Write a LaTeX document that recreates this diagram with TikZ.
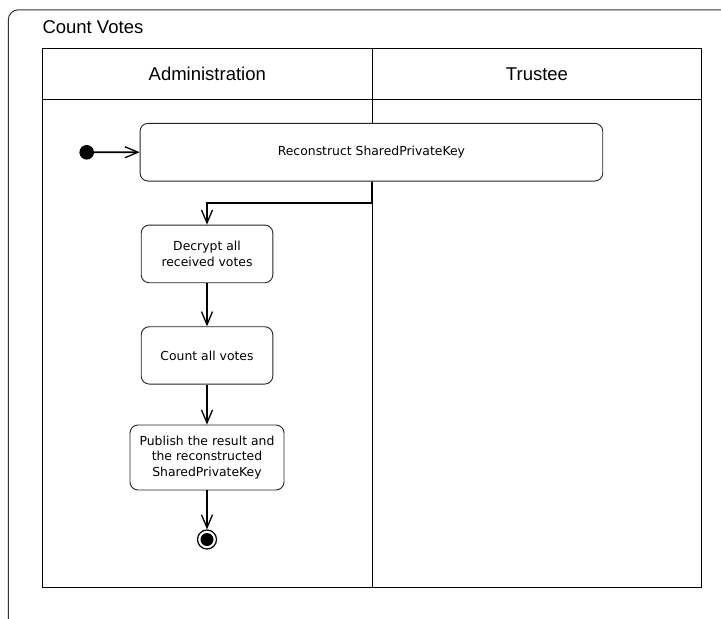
\documentclass[tikz,border=0pt]{standalone}
\usepackage{fontspec}
\setmainfont{Liberation Sans}
\newfontfamily\actfont{DejaVu Sans}
\usetikzlibrary{arrows.meta}

\tikzset{
  frameline/.style={draw=black!80, line width=1pt},
  lanebox/.style={draw=black, line width=1.2pt, rectangle, inner sep=0pt},
  lanehead/.style={lanebox, font=\fontsize{18.5}{22}\selectfont},
  action/.style={draw=black!85, fill=white, line width=0.9pt, rectangle, rounded corners=8pt,
    align=center, inner sep=0pt, font=\actfont\fontsize{12.4}{15.8}\selectfont},
  flow/.style={line width=1.8pt, -{Straight Barb[length=13pt,width=11pt,line width=1.3pt]}},
  startnode/.style={circle, fill=black, minimum size=14.6pt, inner sep=0pt},
  endnode/.style={circle, draw=black, line width=1.2pt, fill=white, minimum size=19pt, inner sep=0pt},
}

\begin{document}
\begin{tikzpicture}[x=1pt, y=-1pt]
  \clip (0,0) rectangle (721,619);
  \fill[white] (0,0) rectangle (721,619);

  % activity frame (open to the right and bottom)
  \draw[frameline, rounded corners=10pt] (8.3,640) -- (8.3,9.8) -- (740,9.8);
  \node[anchor=base west, inner sep=0pt, font=\fontsize{18.5}{22}\selectfont] (title) at (42.3,33.3) {Count Votes};

  % swimlanes
  \node[lanehead, minimum width=330pt, minimum height=51pt] (admhead) at (207.3,73.8) {Administration};
  \node[lanehead, minimum width=329.4pt, minimum height=51pt] (trhead) at (537,73.8) {Trustee};
  \node[lanebox, minimum width=330pt, minimum height=488.4pt] (admlane) at (207.3,343.5) {};
  \node[lanebox, minimum width=329.4pt, minimum height=488.4pt] (trlane) at (537,343.5) {};

  % actions
  \node[startnode] (init) at (86.7,152.3) {};
  \node[action, minimum width=462.7pt, minimum height=57.7pt] (rec) at (371.4,152.2) {Reconstruct SharedPrivateKey};
  \node[action, minimum width=131.6pt, minimum height=57.7pt] (dec) at (207,253.9) {Decrypt all\\received votes};
  \node[action, minimum width=131.6pt, minimum height=57.3pt] (cnt) at (207,355.4) {Count all votes};
  \node[action, minimum width=154pt, minimum height=65pt] (pub) at (207,457.5) {Publish the result and\\the reconstructed\\SharedPrivateKey};
  \node[endnode] (fin) at (207,539.5) {};
  \fill[black] (fin.center) circle (6.5pt);

  % control flow
  \draw[flow] (init) -- (rec.west);
  \coordinate (bend) at (372.3,203.3);
  \draw[flow] (rec.south -| bend) -- (bend) -| (dec.north);
  \draw[flow] (dec) -- (cnt);
  \draw[flow] (cnt) -- (pub);
  \draw[flow] (pub) -- (fin);
\end{tikzpicture}
\end{document}
